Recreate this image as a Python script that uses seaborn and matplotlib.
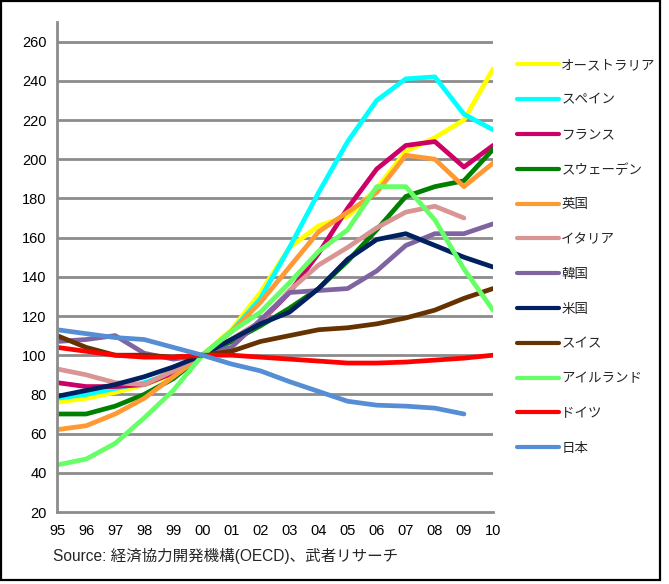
import matplotlib
matplotlib.use("Agg")
import matplotlib.pyplot as plt
from matplotlib.patches import Rectangle
import numpy as np
import pandas as pd
import seaborn as sns

years = ["95", "96", "97", "98", "99", "00", "01", "02", "03", "04",
         "05", "06", "07", "08", "09", "10"]

countries = ["オーストラリア", "スペイン", "フランス", "スウェーデン", "英国", "イタリア",
             "韓国", "米国", "スイス", "アイルランド", "ドイツ", "日本"]

australia = [76, 78, 81, 85, 90, 100, 113, 132, 155, 166, 171, 185, 204, 211, 220, 246]
spain = [78, 80, 83, 86, 91, 100, 112, 129, 155, 183, 209, 230, 241, 242, 223, 215]
france = [86, 84, 84, 85, 91, 100, 108, 117, 132, 152, 175, 195, 207, 209, 196, 207]
sweden = [70, 70, 74, 80, 88, 100, 107, 115, 124, 134, 148, 164, 181, 186, 189, 205]
uk = [62, 64, 70, 78, 89, 100, 112, 127, 145, 163, 173, 183, 202, 200, 186, 198]
italy = [93, 90, 86, 85, 92, 100, 108, 117, 133, 146, 155, 165, 173, 176, 170, np.nan]
korea = [107, 108, 110, 101, 98, 100, 104, 118, 132, 133, 134, 143, 156, 162, 162, 167]
usa = [79, 82, 85, 89, 94, 100, 108, 116, 122, 134, 149, 159, 162, 156, 150, 145]
switzerland = [110, 104, 100, 100, 99, 100, 102, 107, 110, 113, 114, 116, 119, 123, 129, 134]
ireland = [44, 47, 55, 68, 82, 100, 112, 122, 137, 153, 164, 186, 186, 169, 144, 123]
germany = [104, 102, 100, 99, 99, 100, 100, 99, 98, 97, 96, 96, 96.5, 97.5, 98.5, 100]
japan = [113, 111, 109, 108, 104, 100, 95.5, 92, 86.5, 81.5, 76.5, 74.5, 74, 73, 70, np.nan]

series = [australia, spain, france, sweden, uk, italy,
          korea, usa, switzerland, ireland, germany, japan]

colors = ["#FFFF00", "#00FFFF", "#CC0066", "#008000", "#FF9933", "#D99594",
          "#8064A2", "#002060", "#663300", "#66FF66", "#FF0000", "#558ED5"]

y_ticks = list(range(20, 261, 20))
source_text = "Source: 経済協力開発機構(OECD)、武者リサーチ"

rows = []
for name, vals in zip(countries, series):
    for i, v in enumerate(vals):
        rows.append({"year": i, "value": v, "country": name})
df = pd.DataFrame(rows).dropna()

sns.set_style("white")
plt.rcParams["font.family"] = ["Liberation Sans", "Noto Sans CJK JP", "DejaVu Sans"]

W, H = 669, 584
fig = plt.figure(figsize=(W / 100, H / 100), dpi=100)
ax = fig.add_axes([57 / W, 1 - 512 / H, 436 / W, 490 / H])

grey = "#8C8C8C"
for y in y_ticks[1:]:
    ax.axhline(y, color=grey, lw=2.0, zorder=0)

sns.lineplot(data=df, x="year", y="value", hue="country", hue_order=countries,
             palette=colors, linewidth=3.4, ax=ax, legend=True, sort=True)

ax.set_xlim(0, 15)
ax.set_ylim(20, 270)
ax.set_xticks(range(len(years)))
ax.set_xticklabels(years)
ax.set_yticks(y_ticks)
ax.set_xlabel("")
ax.set_ylabel("")

for side in ["top", "right"]:
    ax.spines[side].set_visible(False)
for side in ["left", "bottom"]:
    ax.spines[side].set_color(grey)
    ax.spines[side].set_linewidth(2.0)
ax.tick_params(axis="both", direction="out", length=4.5, width=1.6, color=grey,
               labelsize=10.5, labelcolor="black", pad=4)
ax.tick_params(axis="y", pad=3)

handles, labels = ax.get_legend_handles_labels()
ax.get_legend().remove()
for h in handles:
    h.set_linewidth(3.0)
fig.legend(handles, labels, loc="upper left", bbox_to_anchor=(512 / W, 1 - 54 / H),
           frameon=False, fontsize=9.7, handlelength=3.1, handletextpad=0.15,
           labelspacing=1.66, borderaxespad=0)

fig.text(53 / W, 1 - 556 / H, source_text, fontsize=11.2, va="center", ha="left")

fig.patches.append(Rectangle((1 / W, 1 - 580 / H), 659 / W, 579 / H,
                             transform=fig.transFigure, fill=False,
                             edgecolor="black", linewidth=1.6))

fig.savefig("out.png", dpi=100)
